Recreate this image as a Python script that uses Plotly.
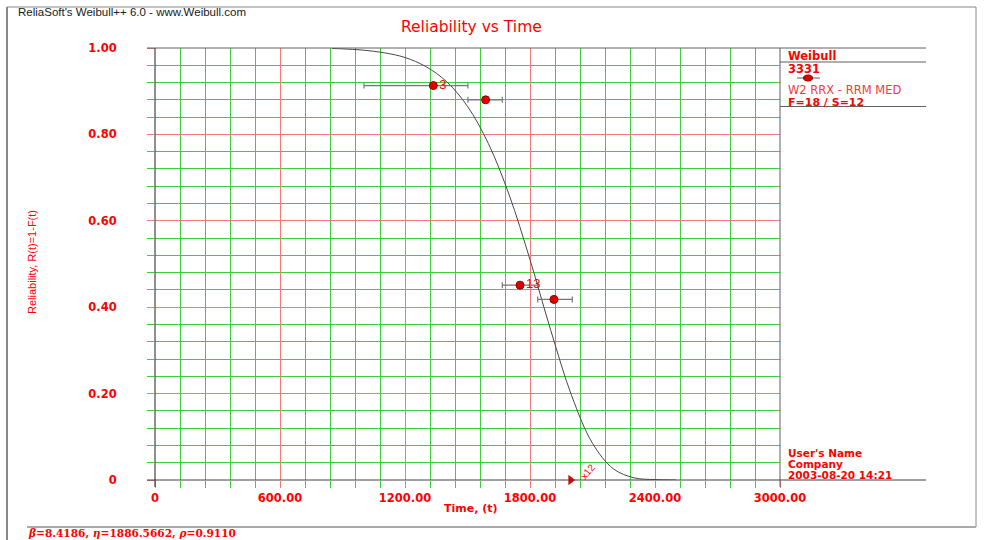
import plotly.graph_objects as go

# ---------------- data ----------------
fail_time = [1336, 1587, 1752, 1915]
fail_rel = [0.913, 0.880, 0.451, 0.418]
bound_low = [1003, 1502, 1667, 1837]
bound_high = [1502, 1667, 1838, 2003]
point_labels = ["3", "", "13", ""]

susp_time = [1995]
susp_rel = [0.0]
susp_label = ["x12"]

curve_t = [850, 900, 1000, 1100, 1200, 1300, 1400, 1500, 1600, 1700, 1800,
           1900, 2000, 2100, 2200, 2300, 2400, 2500]
curve_r = [0.999, 0.998, 0.995, 0.989, 0.978, 0.957, 0.922, 0.865, 0.779,
           0.660, 0.510, 0.346, 0.195, 0.085, 0.026, 0.005, 0.001, 0.000]

x_tickvals = [0, 600, 1200, 1800, 2400, 3000]
x_ticktext = ["0", "600.00", "1200.00", "1800.00", "2400.00", "3000.00"]
y_tickvals = [0, 0.2, 0.4, 0.6, 0.8, 1.0]
y_ticktext = ["0", "0.20", "0.40", "0.60", "0.80", "1.00"]

# ---------------- layout helpers ----------------
L, R, T, B = 155, 780, 48, 480
W, H = 984, 540


def px(x):
    return (x - L) / (R - L)


def py(y):
    return (B - y) / (B - T)


RED = "#ff0000"
GREEN = "#3ccf3c"
GRIDRED = "#f27a7a"
GRAY = "#606060"
FONT = "Liberation Sans, Arial, sans-serif"
WIDE = "DejaVu Sans, Verdana, sans-serif"

fig = go.Figure()

# fitted curve
fig.add_trace(go.Scatter(
    x=curve_t, y=curve_r, mode="lines", line=dict(color="#484848", width=1, shape="spline"),
    hoverinfo="skip", showlegend=False, cliponaxis=False))

# failure points with horizontal bounds
fig.add_trace(go.Scatter(
    x=fail_time, y=fail_rel, mode="markers+text",
    text=point_labels, textposition="middle right",
    textfont=dict(color=RED, size=13, family=FONT),
    marker=dict(symbol="circle", size=8, color="#e00000", line=dict(color="#900000", width=1)),
    error_x=dict(type="data", symmetric=False,
                 array=[h - t for h, t in zip(bound_high, fail_time)],
                 arrayminus=[t - l for l, t in zip(bound_low, fail_time)],
                 color="#777777", thickness=1.2, width=3),
    hoverinfo="skip", showlegend=False))

# suspension
fig.add_trace(go.Scatter(
    x=susp_time, y=susp_rel, mode="markers",
    marker=dict(symbol="triangle-right", size=9, color="#e00000"),
    hoverinfo="skip", showlegend=False, cliponaxis=False))

shapes = []


def hline(y, x0, x1, color=GRAY, width=1):
    shapes.append(dict(type="line", xref="paper", yref="paper",
                       x0=px(x0), x1=px(x1), y0=py(y), y1=py(y),
                       line=dict(color=color, width=width), layer="above"))


def vline(x, y0, y1, color=GRAY, width=1):
    shapes.append(dict(type="line", xref="paper", yref="paper",
                       x0=px(x), x1=px(x), y0=py(y0), y1=py(y1),
                       line=dict(color=color, width=width), layer="above"))


# outer frame
vline(7, 7, 540, color="#888888", width=2)
hline(7, 7, 976, color="#888888", width=1)
vline(976, 7, 527, color="#888888", width=1)
hline(527, 27, 976, color="#aaaaaa", width=2)

# plot borders / axes
hline(48, 147, 926)
hline(62, 780, 926)
hline(106.5, 780, 926)
vline(780, 48, 487)
hline(480, 147, 926, color="#404040")
vline(155, 48, 487, color="#202020")

# legend sample symbol
hline(78, 797, 820, color="#777777", width=1.2)
shapes.append(dict(type="circle", xref="paper", yref="paper",
                   x0=px(803.5), x1=px(812.5), y0=py(75), y1=py(81),
                   fillcolor="#e00000", line=dict(color="#900000", width=1), layer="above"))

annotations = []


def text(x, y, s, size=11, bold=False, color=RED, xanchor="left", family=FONT, angle=0):
    annotations.append(dict(
        xref="paper", yref="paper", x=px(x), y=py(y), text=s, showarrow=False,
        xanchor=xanchor, yanchor="middle", textangle=angle, borderpad=0,
        font=dict(size=size, color=color, family=family, weight="bold" if bold else "normal")))


text(17, 12, "ReliaSoft's Weibull++ 6.0 - www.Weibull.com", size=11.5, color="#202020")
text(471, 27, "Reliability vs Time", size=15.5, xanchor="center", family=WIDE)
text(471, 508, "Time, (t)", size=11, bold=True, xanchor="center", family=WIDE)
text(32, 262, "Reliability, R(t)=1-F(t)", size=11, xanchor="center", angle=-90)

text(787, 56, "Weibull", size=11.5, bold=True, family=WIDE)
text(787, 69, "3331", size=11.5, bold=True, family=WIDE)
text(787, 90, "W2 RRX - RRM MED", size=11.5, color="#f03c3c", family=WIDE)
text(787, 102, "F=18 / S=12", size=11, bold=True, family=WIDE)

text(787, 453, "User's Name", size=10.5, bold=True, family=WIDE)
text(787, 464, "Company", size=10.5, bold=True, family=WIDE)
text(787, 475, "2003-08-20 14:21", size=10.5, bold=True, family=WIDE)

text(27, 533, "<i>β</i>=8.4186, <i>η</i>=1886.5662, <i>ρ</i>=0.9110", size=10.6, bold=True,
     family="DejaVu Serif, Liberation Serif, serif")

# suspension label
annotations.append(dict(
    x=susp_time[0], y=susp_rel[0], xref="x", yref="y", text=susp_label[0], showarrow=False,
    textangle=-50, xshift=17, yshift=9, font=dict(size=10, color=RED, family=FONT)))

tickfont = dict(color=RED, size=11.5, family=WIDE, weight="bold")

fig.update_layout(
    width=W, height=H, margin=dict(l=L, r=W - R, t=T, b=H - B),
    paper_bgcolor="white", plot_bgcolor="white",
    shapes=shapes, annotations=annotations, showlegend=False,
    xaxis=dict(range=[0, 3000], tickvals=x_tickvals, ticktext=x_ticktext,
               showgrid=True, gridcolor=GRIDRED, gridwidth=1, zeroline=False, showline=False,
               ticks="outside", ticklen=7, tickcolor=GRIDRED, tickfont=tickfont,
               minor=dict(dtick=120, tick0=0, showgrid=True, gridcolor=GREEN, gridwidth=1,
                          ticks="outside", ticklen=7, tickcolor=GREEN)),
    yaxis=dict(range=[0, 1.0], tickvals=y_tickvals, ticktext=y_ticktext,
               showgrid=True, gridcolor=GRIDRED, gridwidth=1, zeroline=False, showline=False,
               ticks="outside", ticklen=7, tickcolor=GRIDRED, ticklabelstandoff=28,
               tickfont=tickfont,
               minor=dict(dtick=0.04, tick0=0, showgrid=True, gridcolor=GREEN, gridwidth=1,
                          ticks="outside", ticklen=7, tickcolor=GREEN)),
)

fig.write_html("out.html", config={"displayModeBar": False},
               post_script="document.body.style.margin='0';document.body.style.padding='0';"
                           "document.body.style.overflow='hidden';")
